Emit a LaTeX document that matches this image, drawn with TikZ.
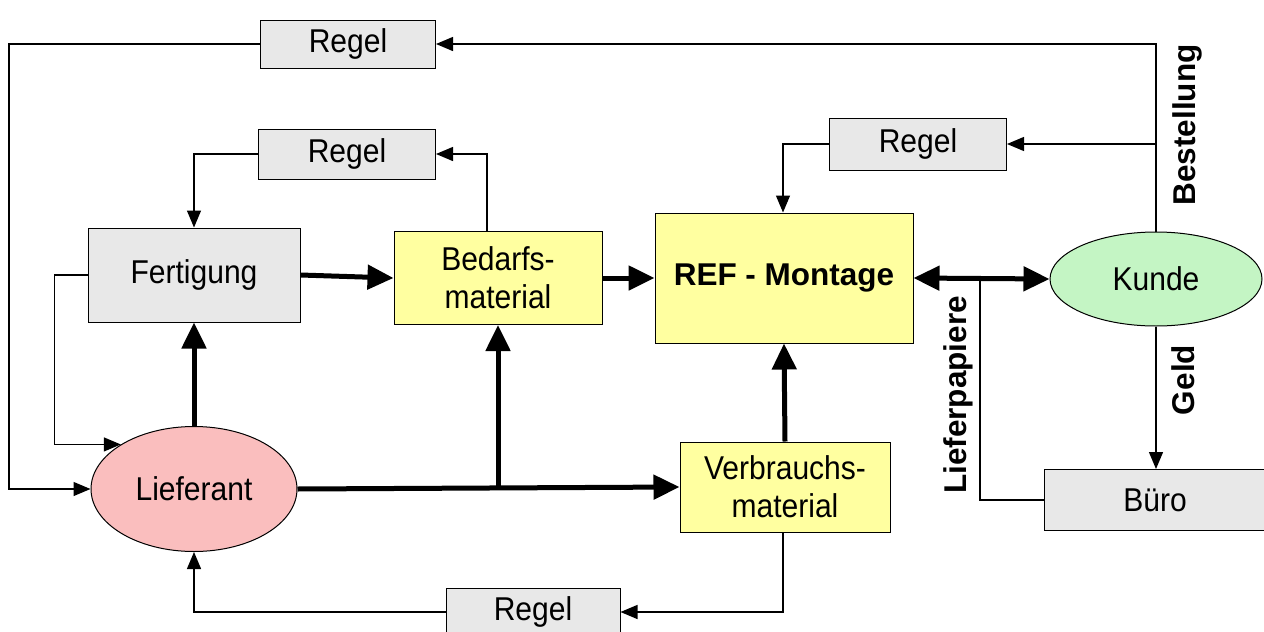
\documentclass[tikz,border=0pt]{standalone}
\usepackage{fontspec}
\setmainfont{Liberation Sans}
\newfontfamily\narrowfont[FakeStretch=0.91]{Liberation Sans}
\usetikzlibrary{arrows.meta,shapes.geometric}
\definecolor{boxgray}{RGB}{232,232,232}
\definecolor{boxyellow}{RGB}{255,255,160}
\definecolor{liefpink}{RGB}{250,190,190}
\definecolor{kundgreen}{RGB}{196,245,196}
\tikzset{
  txt/.style={font=\narrowfont\fontsize{33}{38}\selectfont, align=center},
  btxt/.style={font=\fontsize{31.5}{37}\selectfont\bfseries},
  gbox/.style={draw, line width=1pt, fill=boxgray, inner sep=0pt, txt},
  ybox/.style={draw, line width=1pt, fill=boxyellow, inner sep=0pt, txt},
  ell/.style={draw, line width=1pt, ellipse, inner sep=0pt, txt},
  ta/.style={line width=1.3pt, -{Triangle[length=17pt,width=14pt]}},
  tl/.style={line width=1.3pt},
  TA/.style={line width=5pt, -{Triangle[length=26pt,width=24pt]}},
}
\begin{document}
\begin{tikzpicture}[x=1pt,y=-1pt]
\useasboundingbox (0,0) rectangle (1264,632);
\fill[white] (0,0) rectangle (1264,632);
% nodes
\node[gbox, minimum width=175pt, minimum height=48pt] (regelA) at (348,44) {Regel};
\node[gbox, minimum width=177pt, minimum height=50pt] (regelB) at (347,154) {Regel};
\node[gbox, minimum width=177pt, minimum height=52pt] (regelC) at (918,144) {Regel};
\node[gbox, minimum width=174pt, minimum height=48pt] (regelD) at (533,612) {Regel};
\node[gbox, minimum width=212pt, minimum height=94pt] (fert) at (194,275) {Fertigung};
\node[ybox, minimum width=208pt, minimum height=93pt] (bed) at (498,278) {Bedarfs-\\material};
\node[ybox, minimum width=258pt, minimum height=130pt, btxt] (ref) at (784,278) {REF - Montage};
\node[ybox, minimum width=210pt, minimum height=90pt] (verb) at (785,487) {Verbrauchs-\\material};
\node[ell, fill=liefpink, minimum width=206pt, minimum height=125pt] (lief) at (194,489) {Lieferant};
\node[ell, fill=kundgreen, minimum width=212pt, minimum height=94pt] (kunde) at (1156,279) {Kunde};
\node[gbox, minimum width=221pt, minimum height=61pt] (buero) at (1155,500) {Büro};
% rotated labels
\node[btxt, rotate=90] (lBest) at (1187,125) {Bestellung};
\node[btxt, rotate=90] (lLief) at (958,395) {Lieferpapiere};
\node[btxt, rotate=90] (lGeld) at (1183,380) {Geld};
% thin connectors
\draw[ta] (kunde.north) |- (regelA.east);
\draw[ta] (regelA.west) -- ++(-251,0) |- (lief.west);
\coordinate (kb) at (kunde.north |- regelC.east);
\draw[ta] (kb) -- (regelC.east);
\draw[ta] (regelC.west) -| ([xshift=-1pt]ref.north);
\draw[ta] ([xshift=-11pt]bed.north) |- (regelB.east);
\draw[ta] (regelB.west) -| (fert.north);
\draw[ta] (fert.west) -- ++(-33,0) |- (lief.north west);
\coordinate (lp) at (980,279);
\draw[tl] (lp) |- (buero.west);
\draw[ta] (kunde.south) -- (kunde.south |- buero.north);
\draw[ta] ([xshift=-2pt]verb.south) |- (regelD.east);
\draw[ta] (regelD.west) -| (lief.south);
% thick connectors
\draw[TA] (fert.east) -- (bed.west);
\draw[TA] (bed.east) -- (ref.west);
\draw[line width=5pt, {Triangle[length=26pt,width=24pt]}-{Triangle[length=26pt,width=24pt]}] (ref.east) -- (kunde.west);
\draw[TA] (lief.north) -- (fert.south);
\draw[TA] (lief.east) -- (verb.west);
\coordinate (lb) at (bed.south |- lief.east);
\draw[TA] (lb) -- (bed.south);
\draw[TA] (verb.north) -- (ref.south);
\end{tikzpicture}
\end{document}
